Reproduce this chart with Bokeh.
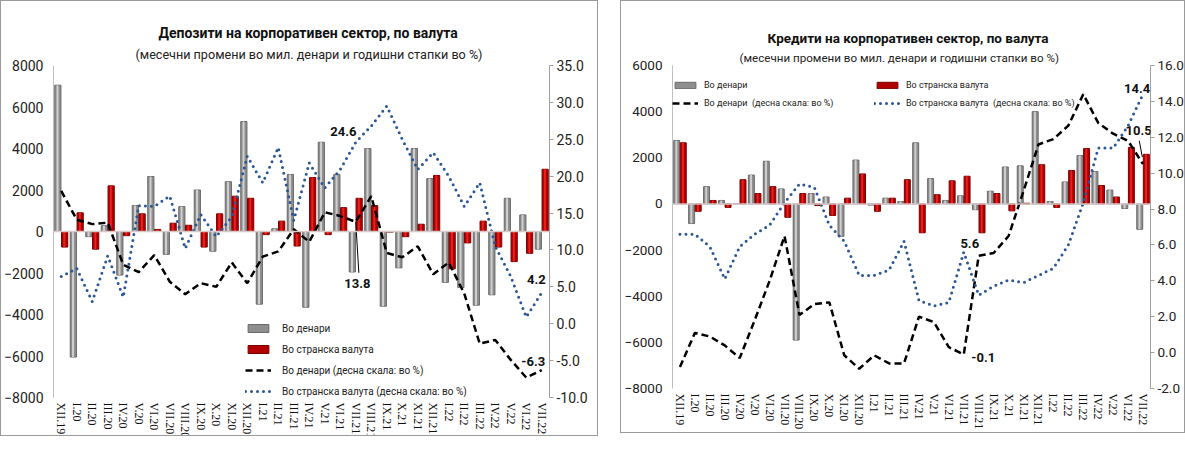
from bokeh.plotting import figure
from bokeh.models import (FactorRange, Range1d, LinearAxis, FixedTicker, Span,
                          Legend, LegendItem, Label, Title, ColumnDataSource,
                          NumeralTickFormatter)
from bokeh.transform import dodge
from bokeh.layouts import row
from bokeh.embed import file_html
from bokeh.resources import INLINE

months = ["XII.19", "I.20", "II.20", "III.20", "IV.20", "V.20", "VI.20", "VII.20",
          "VIII.20", "IX.20", "X.20", "XI.20", "XII.20", "I.21", "II.21", "III.21",
          "IV.21", "V.21", "VI.21", "VII.21", "VIII.21", "IX.21", "X.21", "XI.21",
          "XII.21", "I.22", "II.22", "III.22", "IV.22", "V.22", "VI.22", "VII.22"]

# ---- Deposits (left chart) ----
dep_den = [7050, -6050, -250, 280, -2100, 1250, 2650, -1100, 1200, 2000, -950, 2400,
           5300, -3500, 130, 2750, -3650, 4300, 2750, -1950, 4000, -3600, -1750, 4000,
           2550, -2450, -2700, -3550, -3050, 1600, 800, -850]
dep_fx = [-750, 900, -850, 2200, -200, 850, 100, 400, 300, -750, 850, 1700,
          1600, -150, 500, -700, 2600, -150, 1150, 1600, 1250, -30, -250, 350,
          2700, -1800, -550, 500, -750, -1450, -1050, 3000]
dep_den_pct = [18.0, 14.1, 13.5, 13.7, 8.0, 7.0, 9.3, 5.7, 4.0, 5.5, 5.0, 8.3,
               5.5, 9.1, 9.8, 12.8, 11.1, 15.1, 14.6, 13.8, 17.3, 9.6, 9.0, 10.5,
               6.7, 8.3, 4.1, -2.7, -2.2, -4.9, -7.3, -6.3]
dep_fx_pct = [6.4, 7.5, 3.0, 9.2, 3.6, 16.0, 15.9, 17.3, 10.2, 14.8, 11.8, 14.5,
              22.7, 19.1, 23.9, 14.0, 21.8, 18.4, 20.9, 24.6, 26.8, 29.5, 25.0, 20.9,
              23.2, 20.0, 15.9, 19.1, 10.5, 6.4, 0.9, 4.2]

# ---- Credits (right chart) ----
cr_den = [2750, -850, 750, 150, 20, 1250, 1850, 650, -5900, 450, 300, -1400,
          1900, -50, 250, 100, 2650, 1100, 150, 350, -250, 550, 1600, 1650,
          4000, 100, 950, 2100, 1400, 600, -200, -1100]
cr_fx = [2650, -320, 150, -150, 1050, 450, 750, -580, 450, -70, -500, 250,
         1300, -320, 250, 1050, -1250, 400, 1000, 1200, -1250, 450, -300, 30,
         1700, -150, 1450, 2400, 800, 300, 2450, 2150]
cr_den_pct = [-0.8, 1.1, 0.9, 0.4, -0.3, 1.8, 4.0, 6.5, 2.1, 2.7, 2.8, -0.15,
              -0.9, -0.15, -0.6, -0.6, 2.0, 1.7, 0.3, -0.1, 5.4, 5.55, 6.5, 9.0,
              11.6, 11.9, 12.65, 14.4, 12.8, 12.2, 11.8, 10.5]
cr_fx_pct = [6.6, 6.6, 5.9, 4.1, 5.9, 6.6, 7.1, 8.35, 9.4, 9.2, 7.1, 6.2,
             4.3, 4.3, 4.6, 6.2, 2.9, 2.6, 2.8, 5.6, 3.2, 3.7, 4.05, 3.9,
             4.3, 4.7, 6.0, 8.35, 11.4, 11.4, 12.65, 14.4]

dep_left_ticks = [-8000, -6000, -4000, -2000, 0, 2000, 4000, 6000, 8000]
dep_right_ticks = [-10, -5, 0, 5, 10, 15, 20, 25, 30, 35]
cr_left_ticks = [-8000, -6000, -4000, -2000, 0, 2000, 4000, 6000]
cr_right_ticks = [-2, 0, 2, 4, 6, 8, 10, 12, 14, 16]

# value labels: (text, x position in category units, y in %)
dep_labels = [("24.6", 18.7, 26.1), ("13.8", 19.6, 5.4), ("4.2", 31.15, 6.0), ("-6.3", 30.95, -5.1)]
cr_labels = [("14.4", 31.1, 14.7), ("10.5", 31.2, 12.4), ("5.6", 19.9, 6.1), ("-0.1", 20.8, -0.25)]

leg_names = ["Во денари", "Во странска валута",
             "Во денари (десна скала: во %)", "Во странска валута (десна скала: во %)"]
leg_names_cr = ["Во денари", "Во странска валута",
                "Во денари  (десна скала: во %)", "Во странска валута  (десна скала: во %)"]

FONT = "Roboto"
SERIF = "Liberation Serif"
GRAY_OUT, GRAY_LINE, GRAY_IN = "#8e8e8e", "#6a6a6a", "#cfcfcf"
RED_OUT, RED_LINE, RED_IN = "#b00000", "#7a0000", "#e82020"
BLUE = "#2b5797"


def panel(title, subtitle, den, fx, dp, fp, yl, yr, lt, rt, fw, fh, mbl, mbr, mbt, mbb,
          tsize, ssize, toff, soff, tstand, sstand, asize, labels, leaders):
    src = ColumnDataSource(dict(m=months, den=den, fx=fx, dp=dp, fp=fp))
    p = figure(x_range=FactorRange(*months, range_padding=0), y_range=Range1d(*yl),
               frame_width=fw, frame_height=fh, output_backend="svg", toolbar_location=None,
               min_border_left=mbl, min_border_right=mbr, min_border_top=mbt,
               min_border_bottom=mbb, title=title)
    p.styles = {"border": "1px solid #9a9a9a"}
    p.outline_line_color = None
    p.grid.grid_line_color = None
    p.title.align = "left"
    p.title.offset = toff
    p.title.text_font = FONT
    p.title.text_font_size = tsize
    p.title.text_font_style = "bold"
    p.title.text_color = "#111111"
    p.title.standoff = tstand
    p.add_layout(Title(text=subtitle, align="left", offset=soff, text_font=FONT,
                       text_font_size=ssize, text_font_style="normal",
                       text_color="#222222", standoff=sstand), "above")

    p.extra_y_ranges = {"pct": Range1d(*yr)}

    ax = p.yaxis[0]
    ax.ticker = FixedTicker(ticks=lt)
    ax.axis_line_color = "#c0c0c0"
    ax.major_tick_line_color = None
    ax.major_tick_out = 0
    ax.minor_tick_line_color = None
    ax.major_label_text_font = FONT
    ax.major_label_text_font_size = asize
    ax.major_label_text_color = "#222222"
    ax.major_label_standoff = 10

    rax = LinearAxis(y_range_name="pct", ticker=FixedTicker(ticks=rt),
                     formatter=NumeralTickFormatter(format="0.0"),
                     axis_line_color="#a0a0a0", major_tick_line_color="#a0a0a0",
                     major_tick_out=4, major_tick_in=0, minor_tick_line_color=None,
                     major_label_text_font=FONT, major_label_text_font_size=asize,
                     major_label_text_color="#222222", major_label_standoff=3)
    p.add_layout(rax, "right")

    xa = p.xaxis[0]
    xa.axis_line_color = None
    xa.major_tick_line_color = None
    xa.major_tick_out = 0
    xa.minor_tick_line_color = None
    xa.major_label_orientation = "vertical"
    xa.major_label_text_font = SERIF
    xa.major_label_text_font_size = "12px"
    xa.major_label_text_color = "#111111"
    xa.major_label_standoff = 5

    p.add_layout(Span(location=0, dimension="width", line_color="#d8c8c8", line_width=1.5))

    w = 0.40
    r_den = p.vbar(x=dodge("m", -0.22, range=p.x_range), top="den", width=w, source=src,
                   fill_color=GRAY_OUT, line_color=GRAY_LINE, line_width=1)
    p.vbar(x=dodge("m", -0.24, range=p.x_range), top="den", width=0.13, source=src,
           fill_color=GRAY_IN, line_color=None)
    r_fx = p.vbar(x=dodge("m", 0.22, range=p.x_range), top="fx", width=w, source=src,
                  fill_color=RED_OUT, line_color=RED_LINE, line_width=1)
    p.vbar(x=dodge("m", 0.20, range=p.x_range), top="fx", width=0.13, source=src,
           fill_color=RED_IN, line_color=None)

    r_dp = p.line(x="m", y="dp", source=src, y_range_name="pct", line_color="black",
                  line_width=2.5, line_dash="7 4")
    r_fp = p.line(x="m", y="fp", source=src, y_range_name="pct", line_color=BLUE,
                  line_width=3, line_dash="0 6", line_cap="round")

    for (t, x, y) in labels:
        p.add_layout(Label(x=x, y=y, y_range_name="pct", text=t, text_align="center",
                           text_baseline="middle", text_font=FONT, text_font_size="13px",
                           text_font_style="bold", text_color="#111111"))
    if leaders:
        lx0, ly0, lx1, ly1 = zip(*leaders)
        p.segment(x0=list(lx0), y0=list(ly0), x1=list(lx1), y1=list(ly1),
                  y_range_name="pct", line_color="black", line_width=1)
    return p, (r_den, r_fx, r_dp, r_fp)


# ----- Left: deposits -----
p1, r1 = panel("Депозити на корпоративен сектор, по валута",
               "(месечни промени во мил. денари и годишни стапки во %)",
               dep_den, dep_fx, dep_den_pct, dep_fx_pct, (-8000, 8000), (-10, 35),
               dep_left_ticks, dep_right_ticks, 494, 330, 46, 50, 58, 46,
               "14px", "12.6px", 105, 82, 0, 8, "14px", dep_labels,
               [(19.7, 6.9, 19.5, 13.8)])
leg1 = Legend(items=[LegendItem(label=n, renderers=[r]) for n, r in zip(leg_names, r1)],
              location=(192, -2), orientation="vertical", padding=4, margin=0,
              background_fill_alpha=0, border_line_color=None,
              label_text_font=FONT, label_text_font_size="10px", label_text_color="#222222",
              glyph_width=26, glyph_height=10, label_standoff=11, spacing=5, label_height=16)
p1.add_layout(leg1)

# ----- Right: credits -----
p2, r2 = panel("Кредити на корпоративен сектор, по валута",
               "(месечни промени во мил. денари и годишни стапки во %)",
               cr_den, cr_fx, cr_den_pct, cr_fx_pct, (-8000, 6000), (-2, 16),
               cr_left_ticks, cr_right_ticks, 476, 321, 40, 30, 64, 46,
               "13.5px", "11.6px", 95, 67, 4, 2, "13.5px", cr_labels,
               [(31.25, 11.8, 31.45, 10.9)])
common = dict(orientation="vertical", padding=3, margin=0, background_fill_alpha=0,
              border_line_color=None, label_text_font=FONT, label_text_font_size="9px",
              label_text_color="#222222", glyph_width=26, glyph_height=8,
              label_standoff=6, spacing=2, label_height=16)
legA = Legend(items=[LegendItem(label=leg_names_cr[0], renderers=[r2[0]]),
                     LegendItem(label=leg_names_cr[2], renderers=[r2[2]])],
              location=(0, 277), **common)
legB = Legend(items=[LegendItem(label=leg_names_cr[1], renderers=[r2[1]]),
                     LegendItem(label=leg_names_cr[3], renderers=[r2[3]])],
              location=(202, 277), **common)
p2.add_layout(legA)
p2.add_layout(legB)

layout = row(p1, p2, spacing=22)
open("out.html", "w").write(file_html(layout, INLINE))
